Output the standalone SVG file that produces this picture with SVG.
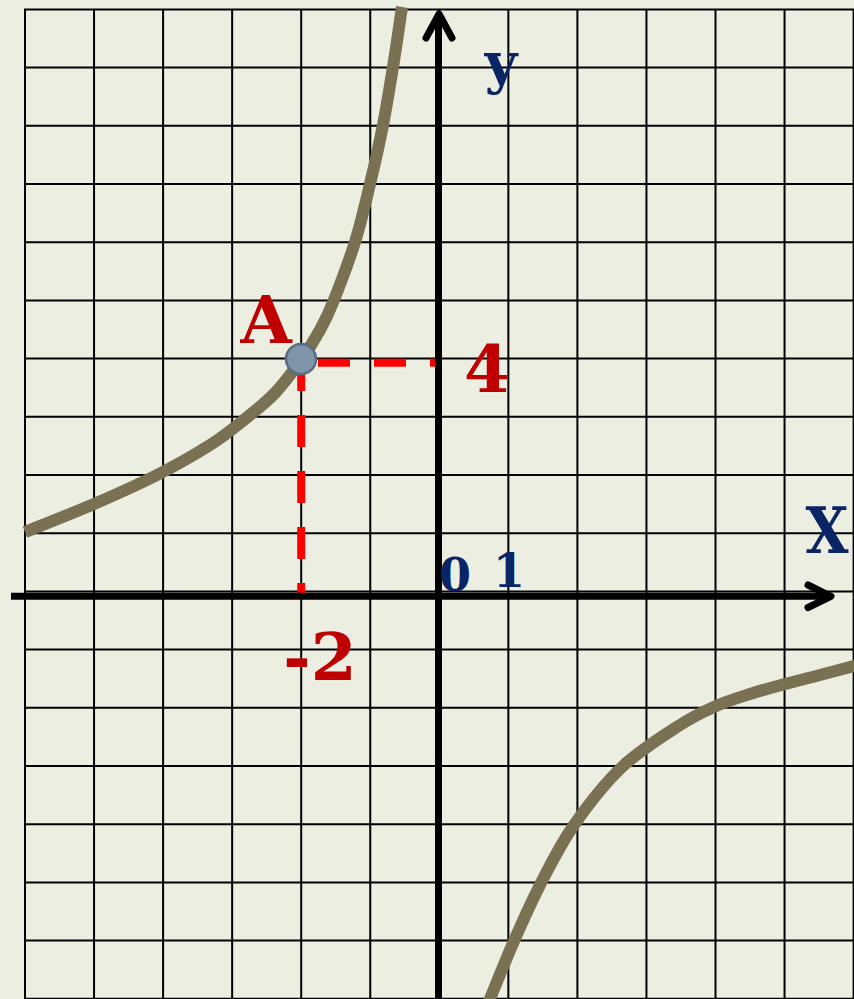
<svg xmlns="http://www.w3.org/2000/svg" width="854" height="999" viewBox="0 0 854 999">
<style>
.g{stroke:#000;stroke-width:2;fill:none}
.ax{stroke:#000;stroke-width:7;fill:none}
.ah{stroke:#000;stroke-width:7;fill:none;stroke-linecap:round;stroke-linejoin:round}
.cv{stroke:#797152;stroke-width:12;fill:none}
.dash{stroke:#ff0000;stroke-width:8;stroke-dasharray:32 24;fill:none}
.t{font-family:"DejaVu Serif","Liberation Serif",serif;font-weight:bold;text-anchor:middle}
.red{fill:#c00000;font-size:66px}
.navy{fill:#0a2466}
</style>
<rect width="854" height="999" fill="#ebeee0"/>
<g id="grid">
<path class="g" d="M25,9.4V999M94.05,9.4V999M163.1,9.4V999M232.15,9.4V999M301.2,9.4V999M370.25,9.4V999M439.3,9.4V999M508.35,9.4V999M577.4,9.4V999M646.45,9.4V999M715.5,9.4V999M784.55,9.4V999M853.6,9.4V999"/>
<path class="g" d="M24,9.4H854M24,67.6H854M24,125.8H854M24,184H854M24,242.2H854M24,300.4H854M24,358.6H854M24,416.8H854M24,475H854M24,533.2H854M24,591.4H854M24,649.6H854M24,707.8H854M24,766H854M24,824.2H854M24,882.4H854M24,940.6H854M24,998.8H854"/>
</g>
<g id="curves">
<path class="cv" d="M25,532C36.5,527.3 72,513.5 94,504C116,494.5 137.7,484.8 157,475C176.3,465.2 195.3,454.3 210,445C224.7,435.7 234.2,427.7 245,419C255.8,410.3 265.7,402.8 275,393C284.3,383.2 293.5,370.5 301,360C308.5,349.5 314.5,340 320,330C325.5,320 328.2,314.7 334,300C339.8,285.3 349,261.3 355,242C361,222.7 365.3,203.5 370,184C374.7,164.5 379.2,144.5 383,125C386.8,105.5 389.8,86.7 393,67C396.2,47.3 400.5,17 402,7"/>
<path class="cv" d="M488,1004L490,999C494,989.3 505.5,960.3 514,941C522.5,921.7 531,902.3 541,883C551,863.7 560.5,844.3 574,825C587.5,805.7 604.3,783.7 622,767C639.7,750.3 664.3,735.2 680,725C695.7,714.8 704.3,711.2 716,706C727.7,700.8 738.5,697.7 750,694C761.5,690.3 773.3,687.2 785,684C796.7,680.8 808.5,678 820,675C831.5,672 848.3,667.5 856,665.5"/>
</g>
<g id="connectors">
<line class="dash" x1="318" y1="362.7" x2="439" y2="362.7"/>
<line class="dash" x1="301.2" y1="359" x2="301.2" y2="597"/>
<line class="ax" x1="11" y1="596.3" x2="830" y2="596.3"/>
<line class="ax" x1="438.5" y1="999" x2="438.5" y2="16"/>
<polyline class="ah" points="808,585 831,596.3 808,607.5"/>
<polyline class="ah" points="426,38 439,14 452,38"/>
</g>
<g id="pointA">
<circle cx="301" cy="359" r="15" fill="#7f93a9" stroke="#5b6d80" stroke-width="2.5"/>
</g>
<g id="labels">
<text class="t red" x="266" y="343">A</text>
<text class="t red" x="487" y="392">4</text>
<text class="t red" x="320" y="680">-2</text>
<text class="t navy" x="827" y="553" font-size="64" textLength="43" lengthAdjust="spacingAndGlyphs">X</text>
<text class="t navy" x="501" y="83" font-size="56">y</text>
<text class="t navy" x="455" y="591" font-size="46">0</text>
<text class="t navy" x="509" y="587" font-size="46">1</text>
</g>
</svg>
